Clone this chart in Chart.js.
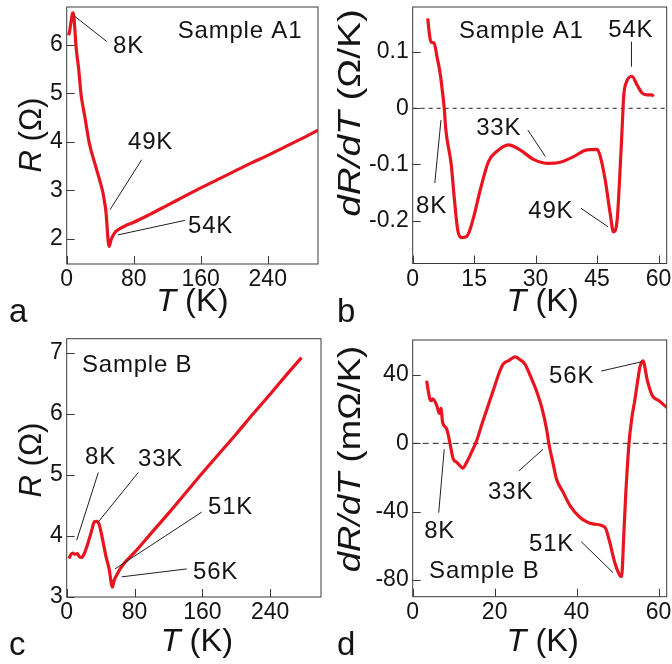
<!DOCTYPE html>
<html><head><meta charset="utf-8">
<script src="https://cdn.jsdelivr.net/npm/chart.js@4.4.1/dist/chart.umd.min.js"></script>
<style>
html,body{margin:0;padding:0;background:#fff;}
#wrap{position:relative;width:672px;height:664px;overflow:hidden;background:#fff;}
canvas{position:absolute;}
</style></head><body>
<div id="wrap">
<canvas id="ca" width="336" height="332" style="left:0;top:0"></canvas>
<canvas id="cb" width="336" height="332" style="left:336px;top:0"></canvas>
<canvas id="cc" width="336" height="332" style="left:0;top:332px"></canvas>
<canvas id="cd" width="336" height="332" style="left:336px;top:332px"></canvas>
</div>
<script>
// ---- Panel a: R(T), Sample A1 ----
const aT = [2, 3, 5, 7, 8, 9, 10, 11, 12.5, 14, 17, 18, 22, 27, 35, 40, 43, 45, 47, 48.5, 49.5, 50.5, 51.5, 53, 55.7, 58, 60, 70, 80, 100, 120, 140, 160, 180, 200, 220, 240, 260, 280, 300];
const aR = [6.2, 6.24, 6.45, 6.65, 6.66, 6.5, 6.25, 6.0, 5.75, 5.55, 5.0, 4.87, 4.48, 3.97, 3.47, 3.17, 2.97, 2.78, 2.53, 2.18, 1.95, 1.84, 1.88, 1.98, 2.08, 2.14, 2.17, 2.27, 2.34, 2.51, 2.69, 2.87, 3.05, 3.22, 3.39, 3.56, 3.72, 3.89, 4.06, 4.24];
const aXTicks = [0, 80, 160, 240];
const aYTicks = [2, 3, 4, 5, 6];

// ---- Panel b: dR/dT, Sample A1 ----
const bT = [3.67, 4.06, 4.47, 5.2, 6.0, 6.7, 7.3, 7.7, 8.1, 9.4, 10.2, 11.0, 12.0, 13.2, 14.8, 16.5, 18.5, 20.5, 23.4, 26.2, 29.5, 32.8, 36.0, 39.3, 42.5, 45.0, 45.8, 47.0, 48.2, 49.0, 49.9, 50.7, 51.1, 51.5, 52.2, 53.5, 54.8, 56.0, 57.2, 58.4, 58.8];
const bV = [0.16, 0.133, 0.118, 0.116, 0.089, 0.062, 0.027, 0, -0.039, -0.1, -0.164, -0.217, -0.23, -0.228, -0.196, -0.145, -0.095, -0.077, -0.065, -0.074, -0.091, -0.098, -0.096, -0.086, -0.074, -0.073, -0.086, -0.128, -0.187, -0.22, -0.199, -0.098, -0.039, 0.021, 0.047, 0.057, 0.041, 0.027, 0.024, 0.024, 0.021];
const bXTicks = [0, 15, 30, 45, 60];
const bYTicks = [0.1, 0, -0.1, -0.2];
const bYLabels = ['0.1', '0', '-0.1', '-0.2'];

// ---- Panel c: R(T), Sample B ----
const cT = [2.7, 4.7, 7, 9.8, 12.5, 14.9, 17.7, 21.6, 25.5, 29.5, 32.6, 35.4, 38.5, 42.5, 46.4, 50.3, 52.3, 53.8, 56.2, 59, 64.9, 80, 100, 120, 140, 160, 180, 200, 220, 240, 260, 277];
const cR = [3.63, 3.69, 3.72, 3.70, 3.71, 3.66, 3.65, 3.74, 3.9, 4.09, 4.23, 4.24, 4.18, 3.93, 3.66, 3.44, 3.25, 3.16, 3.28, 3.36, 3.5, 3.73, 4.05, 4.37, 4.7, 5.03, 5.35, 5.67, 6.0, 6.32, 6.65, 6.92];
const cXTicks = [0, 80, 160, 240];
const cYTicks = [3, 4, 5, 6, 7];

// ---- Panel d: dR/dT, Sample B ----
const dT = [3.4, 4.2, 4.6, 4.9, 5.9, 6.5, 6.9, 7.3, 8.3, 9.1, 9.9, 10.7, 11.5, 12.2, 13.2, 14.4, 15.6, 17, 18.4, 19.8, 21.3, 22.1, 23.5, 25, 26.2, 27.4, 28.8, 30.2, 31.5, 32.7, 33.3, 34.2, 35.1, 36.8, 38.4, 40.8, 42.5, 44, 46.9, 48.1, 49.3, 50.6, 51, 51.5, 52, 52.8, 53.5, 54.2, 55, 55.5, 56.2, 57.3, 58.5, 60.1, 62];
const dV = [36.6, 25.9, 25, 26, 22, 17.5, 20.5, 12.3, 8.4, 0, -9.2, -11, -13, -14.5, -11, -5, 1.5, 12, 22, 32, 42.5, 46.4, 48.5, 50.6, 49, 46.4, 39, 30.8, 21, 8, -1, -11, -20.9, -29, -36.5, -43.3, -46, -47.2, -49.1, -57.9, -69.6, -77.4, -78, -55, -30, 0, 15, 25, 38, 45, 48.3, 36.6, 27.8, 25, 21];
const dXTicks = [0, 20, 40, 60];
const dYTicks = [40, 0, -40, -80];

const FAM = '"Liberation Sans", Arial, Helvetica, sans-serif';
const RED = '#e8141f';
const INK = '#141414';
const FRAME = '#3a3a3a';

function drawRich(ctx, segs, cx, cy, rot, size, stretch) {
  ctx.save();
  ctx.translate(cx, cy);
  ctx.rotate(rot);
  ctx.scale(stretch || 1, 1);
  let total = 0;
  const w = segs.map(s => {
    ctx.font = (s.i ? 'italic ' : '') + size + 'px ' + FAM;
    const m = ctx.measureText(s.t).width; total += m; return m;
  });
  let x = -total / 2;
  ctx.textBaseline = 'middle';
  ctx.textAlign = 'left';
  ctx.fillStyle = INK;
  segs.forEach((s, k) => {
    ctx.font = (s.i ? 'italic ' : '') + size + 'px ' + FAM;
    ctx.fillText(s.t, x, 0);
    x += w[k];
  });
  ctx.restore();
}

const deco = {
  id: 'deco',
  afterDraw(chart, args, o) {
    const ctx = chart.ctx, ca = chart.chartArea;
    const xs = chart.scales.x, ys = chart.scales.y;
    ctx.save();
    ctx.strokeStyle = FRAME; ctx.lineWidth = 1;
    ctx.strokeRect(ca.left, ca.top, ca.right - ca.left, ca.bottom - ca.top);
    // inward tick marks at the library's tick positions
    ctx.beginPath();
    for (const t of xs.ticks) {
      const px = Math.round(xs.getPixelForValue(t.value)) + 0.5;
      ctx.moveTo(px, ca.bottom); ctx.lineTo(px, ca.bottom - 8);
    }
    for (const t of ys.ticks) {
      const py = Math.round(ys.getPixelForValue(t.value)) + 0.5;
      ctx.moveTo(ca.left, py); ctx.lineTo(ca.left + 8, py);
    }
    ctx.stroke();
    // annotations
    ctx.strokeStyle = '#202020'; ctx.lineWidth = 1;
    ctx.fillStyle = INK;
    ctx.font = '24px ' + FAM;
    try { ctx.letterSpacing = '0.8px'; } catch (e) {}
    ctx.textBaseline = 'middle'; ctx.textAlign = 'left';
    for (const n of o.notes) {
      if (n.l) {
        ctx.beginPath();
        ctx.moveTo(xs.getPixelForValue(n.l[0]), ys.getPixelForValue(n.l[1]));
        ctx.lineTo(xs.getPixelForValue(n.l[2]), ys.getPixelForValue(n.l[3]));
        ctx.stroke();
      }
      ctx.fillText(n.t, xs.getPixelForValue(n.x), ys.getPixelForValue(n.y));
    }
    try { ctx.letterSpacing = '0px'; } catch (e) {}
    // axis titles
    drawRich(ctx, o.ytitle, o.yt[0], o.yt[1], -Math.PI / 2, 31, o.ys || 1);
    drawRich(ctx, [{t: 'T', i: true}, {t: ' (K)'}], (ca.left + ca.right) / 2 + (o.xtdx || 0), o.xty, 0, 31, 1.05);
    // panel letter
    ctx.font = '33px ' + FAM;
    ctx.fillStyle = INK;
    ctx.textBaseline = 'alphabetic';
    ctx.fillText(o.letter, o.lp[0], o.lp[1]);
    ctx.restore();
  }
};

function makeChart(id, cfg) {
  const mk = (ticks) => (s) => { s.ticks = ticks.map(v => ({value: v})); };
  const lab = (labels) => (v, i) => labels[i];
  const datasets = [{
    data: cfg.T.map((t, i) => ({x: t, y: cfg.V[i]})),
    borderColor: RED, borderWidth: 3.2, pointRadius: 0,
    cubicInterpolationMode: 'monotone', fill: false, order: 0
  }];
  if (cfg.zero) {
    datasets.push({
      data: [{x: cfg.xr[0], y: 0}, {x: cfg.xr[1], y: 0}],
      borderColor: '#222', borderWidth: 1, borderDash: cfg.zero, pointRadius: 0, fill: false, order: 1
    });
  }
  return new Chart(document.getElementById(id), {
    type: 'line',
    data: {datasets},
    options: {
      responsive: false, animation: false, events: [],
      layout: {autoPadding: false, padding: {top: cfg.top, right: cfg.right, left: 0, bottom: 0}},
      plugins: {legend: {display: false}, tooltip: {enabled: false}, deco: cfg.deco},
      scales: {
        x: {
          type: 'linear', min: cfg.xr[0], max: cfg.xr[1],
          afterBuildTicks: mk(cfg.xt),
          afterFit: s => { s.height = cfg.xh; s.paddingLeft = 0; s.paddingRight = 0; s.paddingTop = 0; s.paddingBottom = 0; },
          ticks: {font: {size: 23, family: FAM}, color: INK, padding: 10, maxRotation: 0, autoSkip: false,
                  callback: lab(cfg.xl || cfg.xt.map(String))},
          grid: {display: false, drawOnChartArea: false, tickLength: -8},
          border: {display: false}
        },
        y: {
          type: 'linear', min: cfg.yr[0], max: cfg.yr[1],
          afterBuildTicks: mk(cfg.yt),
          afterFit: s => { s.width = cfg.yw; s.paddingLeft = 0; s.paddingRight = 0; s.paddingTop = 0; s.paddingBottom = 0; },
          ticks: {font: {size: 23, family: FAM}, color: INK, padding: 12, autoSkip: false,
                  callback: lab(cfg.yl || cfg.yt.map(String))},
          grid: {display: false, drawOnChartArea: false, tickLength: -8},
          border: {display: false}
        }
      }
    },
    plugins: [deco]
  });
}

makeChart('ca', {
  T: aT, V: aR, xr: [0, 300], yr: [1.48, 6.78], xt: aXTicks, yt: aYTicks,
  top: 7, right: 18, yw: 66.7, xh: 68,
  deco: {
    notes: [
      {t: 'Sample A1', x: 132.5, y: 6.27},
      {t: '8K', x: 55.3, y: 5.96, l: [8.7, 6.6, 47.7, 6.07]},
      {t: '49K', x: 73.2, y: 3.98, l: [89.5, 3.63, 51.7, 2.6]},
      {t: '54K', x: 144.8, y: 2.25, l: [141.2, 2.38, 61.2, 2.08]}
    ],
    ytitle: [{t: 'R', i: true}, {t: ' (Ω)'}], yt: [32.5, 135], xty: 302, letter: 'a', lp: [9, 322]
  }
});

makeChart('cb', {
  T: bT, V: bV, xr: [0, 62], yr: [-0.2762, 0.1802], xt: bXTicks, yt: bYTicks, yl: bYLabels,
  top: 7, right: 5.3, yw: 76.7, xh: 68.5, zero: [4, 4],
  deco: {
    notes: [
      {t: 'Sample A1', x: 11.3, y: 0.136},
      {t: '54K', x: 47.75, y: 0.139, l: [53.4, 0.1185, 53.4, 0.074]},
      {t: '33K', x: 15.5, y: -0.035, l: [28.1, -0.0386, 32.4, -0.086]},
      {t: '8K', x: 0.8, y: -0.175, l: [5.4, -0.133, 6.9, -0.021]},
      {t: '49K', x: 28.2, y: -0.184, l: [41.1, -0.178, 47.7, -0.211]}
    ],
    ytitle: [{t: 'dR/dT', i: true}, {t: ' (Ω/K)'}], yt: [15, 113], ys: 1.25, xty: 302, xtdx: 3, letter: 'b', lp: [1, 322]
  }
});

makeChart('cc', {
  T: cT, V: cR, xr: [0, 300], yr: [3, 7.23], xt: cXTicks, yt: cYTicks,
  top: 6.7, right: 15, yw: 66.7, xh: 67,
  deco: {
    notes: [
      {t: 'Sample B', x: 18, y: 6.79},
      {t: '8K', x: 21.6, y: 5.29, l: [37.3, 5.04, 11.8, 3.93]},
      {t: '33K', x: 84.1, y: 5.26, l: [84.5, 5.04, 37.3, 4.23]},
      {t: '51K', x: 166.7, y: 4.47, l: [159.3, 4.39, 57, 3.46]},
      {t: '56K', x: 149, y: 3.41, l: [141.6, 3.46, 64.9, 3.33]}
    ],
    ytitle: [{t: 'R', i: true}, {t: ' (Ω)'}], yt: [32, 128], xty: 310, xtdx: 3, letter: 'c', lp: [9, 323]
  }
});

makeChart('cd', {
  T: dT, V: dV, xr: [0, 62], yr: [-89.8, 60.5], xt: dXTicks, yt: dYTicks,
  top: 8, right: 5.3, yw: 76.7, xh: 67.3, zero: [6, 4],
  deco: {
    notes: [
      {t: '56K', x: 33.3, y: 39.4, l: [46, 42.3, 55.8, 47.7]},
      {t: '33K', x: 18.4, y: -28.9, l: [25.9, -16.2, 31.8, -3.5]},
      {t: '8K', x: 2.8, y: -51.3, l: [6.35, -40.6, 7.7, -3.5]},
      {t: '51K', x: 28.4, y: -59, l: [41.1, -57.5, 48.9, -75.7]},
      {t: 'Sample B', x: 4, y: -74.7}
    ],
    ytitle: [{t: 'dR/dT', i: true}, {t: ' (mΩ/K)'}], yt: [15, 127], ys: 1.18, xty: 310, xtdx: 3, letter: 'd', lp: [1, 323]
  }
});
</script>
</body></html>
